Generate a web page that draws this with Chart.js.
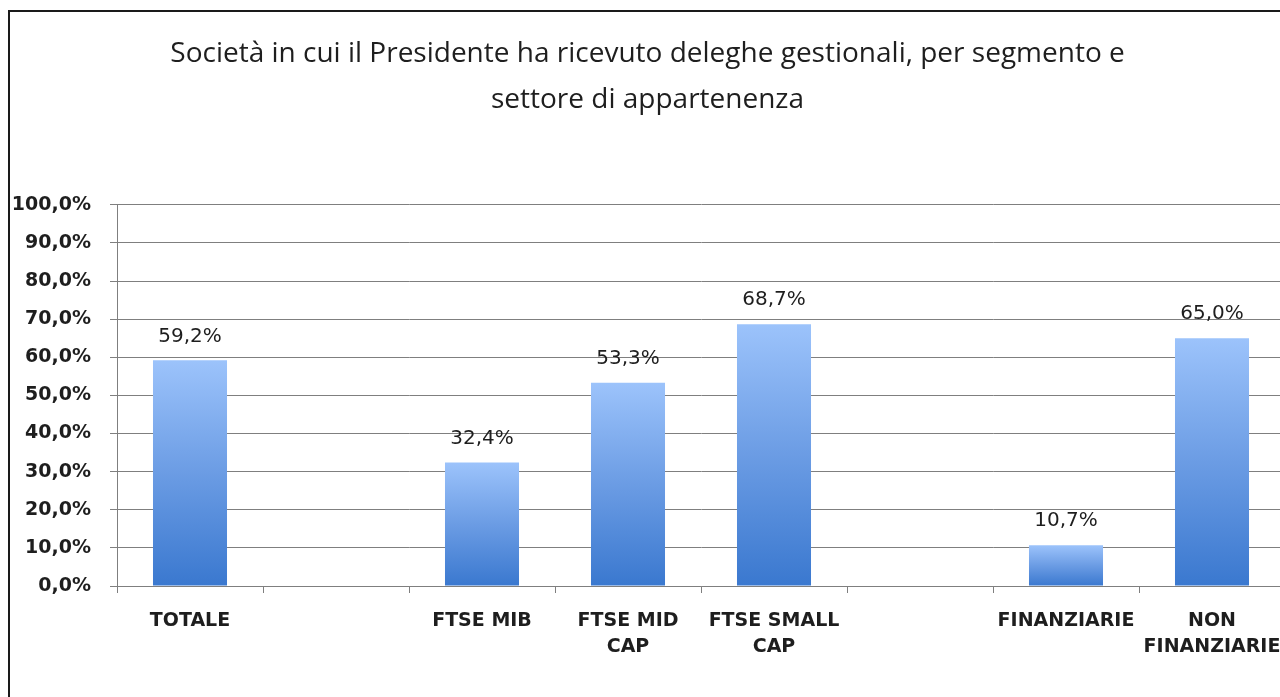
<!DOCTYPE html>
<html>
<head>
<meta charset="utf-8">
<script src="https://cdn.jsdelivr.net/npm/chart.js@4/dist/chart.umd.min.js"></script>
<style>
  html, body { margin: 0; padding: 0; background: #fff; overflow: hidden; }
  #frame {
    position: absolute; left: 8px; top: 10px;
    width: 1300px; height: 700px;
    border-left: 2px solid #1a1a1a; border-top: 2px solid #1a1a1a;
  }
  #frame canvas { display: block; }
</style>
</head>
<body>
<div id="frame"><canvas id="myChart" width="1300" height="685"></canvas></div>
<script>
// dati
var categories = [
  'TOTALE', '', 'FTSE MIB', ['FTSE MID', 'CAP'], ['FTSE SMALL', 'CAP'],
  '', 'FINANZIARIE', ['NON', 'FINANZIARIE']
];
var values = [59.2, null, 32.4, 53.3, 68.7, null, 10.7, 65.0];
var yTicks = [0, 10, 20, 30, 40, 50, 60, 70, 80, 90, 100];
var titleLines = [
  'Società in cui il Presidente ha ricevuto deleghe gestionali, per segmento e',
  'settore di appartenenza'
];

function fmtPct(v, dec) {
  return v.toFixed(dec).replace('.', ',') + '%';
}

// gradiente verticale per ogni barra (chiaro in alto, scuro in basso)
function barGradient(ctx) {
  var chart = ctx.chart;
  var v = ctx.raw;
  if (v == null || !chart.scales.y) return '#5b8fdc';
  var top = chart.scales.y.getPixelForValue(v);
  var bottom = chart.scales.y.getPixelForValue(0);
  if (!isFinite(top) || !isFinite(bottom) || top === bottom) return '#5b8fdc';
  var g = chart.ctx.createLinearGradient(0, top, 0, bottom);
  g.addColorStop(0, '#9cc3fb');
  g.addColorStop(0.5, '#6b9ce4');
  g.addColorStop(1, '#3a78cf');
  return g;
}

const valueLabels = {
  id: 'value_labels',
  afterDatasetsDraw: (chart) => {
    const ctx = chart.ctx;
    const meta = chart.getDatasetMeta(0);
    ctx.save();
    ctx.font = '20px "DejaVu Sans"';
    ctx.fillStyle = '#1e1e1e';
    ctx.textAlign = 'center';
    ctx.textBaseline = 'bottom';
    meta.data.forEach(function (bar, i) {
      if (values[i] == null) return;
      ctx.fillText(fmtPct(values[i], 1), bar.x, bar.y - 14);
    });
    ctx.restore();
  }
};

var ctx = document.getElementById('myChart');
var myChart = new Chart(ctx, {
  type: 'bar',
  data: {
    labels: categories,
    datasets: [{
      data: values,
      backgroundColor: barGradient,
      borderWidth: 0,
      barPercentage: 0.507,
      categoryPercentage: 1
    }]
  },
  options: {
    responsive: false,
    animation: false,
    layout: { padding: { left: 0, right: 25, top: 0, bottom: 0 } },
    plugins: {
      legend: { display: false },
      tooltip: { enabled: false },
      title: {
        display: true,
        text: titleLines,
        color: '#1e1e1e',
        font: { family: '"Open Sans"', size: 28, weight: 'normal', lineHeight: 1.64 },
        padding: { top: 19, bottom: 82 }
      }
    },
    scales: {
      x: {
        grid: {
          offset: true,
          drawOnChartArea: false,
          drawTicks: true,
          tickLength: 7,
          color: '#7f7f7f'
        },
        border: { display: true, color: '#7f7f7f', width: 1 },
        ticks: {
          autoSkip: false,
          maxRotation: 0,
          padding: 16,
          color: '#1e1e1e',
          font: { family: '"DejaVu Sans"', size: 19, weight: 'bold', lineHeight: 1.32 }
        },
        afterFit: function (scale) { scale.height = 111; }
      },
      y: {
        min: 0,
        max: 100,
        afterBuildTicks: function (scale) {
          scale.ticks = yTicks.map(function (v) { return { value: v }; });
        },
        grid: {
          color: '#7f7f7f',
          drawTicks: true,
          tickLength: 7
        },
        border: { display: true, color: '#7f7f7f', width: 1 },
        ticks: {
          padding: 19,
          color: '#1e1e1e',
          font: { family: '"DejaVu Sans"', size: 19, weight: 'bold' },
          callback: function (v) { return fmtPct(v, 1); }
        },
        afterFit: function (scale) { scale.width = 107; }
      }
    }
  },
  plugins: [valueLabels]
});
</script>
</body>
</html>
